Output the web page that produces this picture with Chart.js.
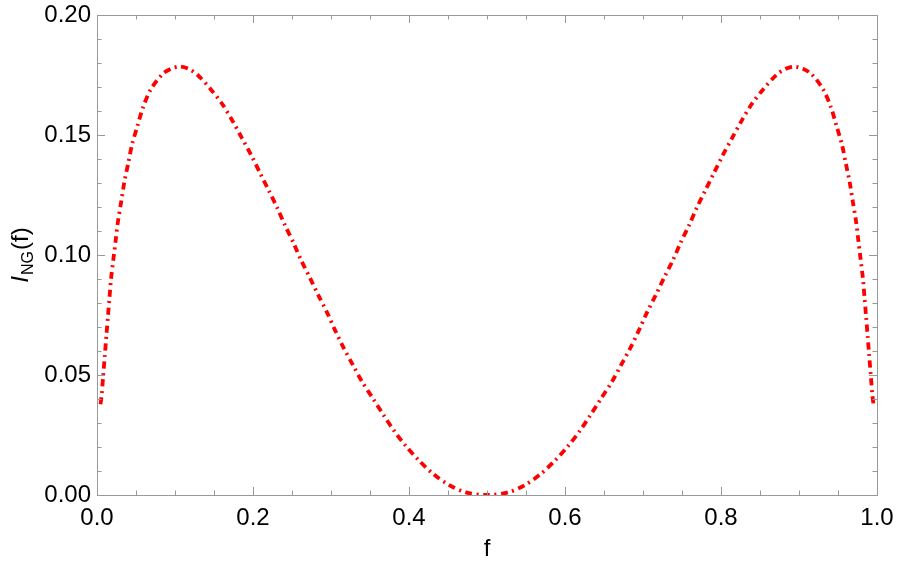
<!DOCTYPE html>
<html>
<head>
<meta charset="utf-8">
<script src="https://cdn.jsdelivr.net/npm/chart.js@4.4.1/dist/chart.umd.min.js"></script>
<style>
  html, body { margin: 0; padding: 0; background: #fff; }
  #wrap { width: 897px; height: 575px; }
</style>
</head>
<body>
<div id="wrap"><canvas id="ngChart"></canvas></div>
<script>
// Valeurs
const fValues = [
    0.0045, 0.006, 0.008, 0.010, 0.012, 0.014, 0.016, 0.018, 0.021, 0.024,
    0.027, 0.031, 0.035, 0.040, 0.045, 0.052, 0.059, 0.069, 0.084, 0.095,
    0.106, 0.117, 0.129, 0.146, 0.161, 0.174, 0.186, 0.198, 0.209, 0.220,
    0.231, 0.241, 0.252, 0.262, 0.273, 0.284, 0.295, 0.305, 0.316, 0.328,
    0.340, 0.354, 0.367, 0.381, 0.396, 0.413, 0.431, 0.451, 0.473, 0.500,
    0.527, 0.549, 0.569, 0.587, 0.604, 0.619, 0.633, 0.646, 0.660, 0.672,
    0.684, 0.695, 0.705, 0.716, 0.727, 0.738, 0.748, 0.759, 0.769, 0.780,
    0.791, 0.802, 0.814, 0.826, 0.839, 0.854, 0.871, 0.883, 0.894, 0.905,
    0.916, 0.931, 0.941, 0.948, 0.955, 0.960, 0.965, 0.969, 0.973, 0.976,
    0.979, 0.982, 0.984, 0.986, 0.988, 0.990, 0.992, 0.994, 0.9955
];
const iValues = [
    0.0378, 0.0418, 0.050, 0.058, 0.0663, 0.0743, 0.0822, 0.0901, 0.0982, 0.1063,
    0.1143, 0.1222, 0.1303, 0.1382, 0.1461, 0.1539, 0.1615, 0.169, 0.1754, 0.1776,
    0.1785, 0.1776, 0.175, 0.169, 0.1627, 0.1557, 0.1486, 0.1414, 0.1342, 0.127,
    0.1197, 0.1124, 0.105, 0.0976, 0.0905, 0.0831, 0.076, 0.0688, 0.0614, 0.0542,
    0.0471, 0.0401, 0.0335, 0.0267, 0.0204, 0.0143, 0.0088, 0.0042, 0.0011, 0.0,
    0.0011, 0.0042, 0.0088, 0.0143, 0.0204, 0.0267, 0.0335, 0.0401, 0.0471, 0.0542,
    0.0614, 0.0688, 0.076, 0.0831, 0.0905, 0.0976, 0.105, 0.1124, 0.1197, 0.127,
    0.1342, 0.1414, 0.1486, 0.1557, 0.1627, 0.169, 0.175, 0.1776, 0.1785, 0.1776,
    0.1754, 0.169, 0.1615, 0.1539, 0.1461, 0.1382, 0.1303, 0.1222, 0.1143, 0.1063,
    0.0982, 0.0901, 0.0822, 0.0743, 0.0663, 0.058, 0.050, 0.0418, 0.0378
];

// Graduations
const xTickLabels = ['0.0', '0.2', '0.4', '0.6', '0.8', '1.0'];
const yTickLabels = ['0.00', '0.05', '0.10', '0.15', '0.20'];

const fontFamily = "'Liberation Sans', Arial, sans-serif";
const frameColor = '#999999';

// Cadre et graduations vers l'intérieur (style Mathematica) + titres des axes
const framePlugin = {
    id: 'frame',
    afterDatasetsDraw(chart) {
        const { ctx, chartArea: a, scales: { x, y } } = chart;
        ctx.save();
        ctx.strokeStyle = frameColor;
        ctx.lineWidth = 1;
        ctx.strokeRect(Math.round(a.left) + 0.5, Math.round(a.top) + 0.5,
            Math.round(a.right - a.left), Math.round(a.bottom - a.top));

        ctx.beginPath();
        for (let i = 0; i <= 20; i++) {
            const px = Math.round(x.getPixelForValue(i * 0.05)) + 0.5;
            const len = i % 4 === 0 ? 8 : 4.5;
            ctx.moveTo(px, a.bottom); ctx.lineTo(px, a.bottom - len);
            ctx.moveTo(px, a.top); ctx.lineTo(px, a.top + len);
        }
        for (let i = 0; i <= 20; i++) {
            const py = Math.round(y.getPixelForValue(i * 0.01)) + 0.5;
            const len = i % 5 === 0 ? 8 : 4.5;
            ctx.moveTo(a.left, py); ctx.lineTo(a.left + len, py);
            ctx.moveTo(a.right, py); ctx.lineTo(a.right - len, py);
        }
        ctx.stroke();

        // titre de l'axe x
        ctx.fillStyle = '#000';
        ctx.font = '24px ' + fontFamily;
        ctx.textAlign = 'center';
        ctx.textBaseline = 'middle';
        ctx.fillText('f', (a.left + a.right) / 2, 549);

        // titre de l'axe y : I_NG(f)
        ctx.translate(20, (a.top + a.bottom) / 2);
        ctx.rotate(-Math.PI / 2);
        const fontI = 'italic 24px ' + fontFamily;
        const fontSub = '16px ' + fontFamily;
        const fontMain = '24px ' + fontFamily;
        ctx.font = fontI; const wI = ctx.measureText('I').width;
        ctx.font = fontSub; const wS = ctx.measureText('NG').width;
        ctx.font = fontMain; const wP = ctx.measureText('(f)').width;
        let cx = -(wI + wS + wP + 2) / 2;
        ctx.textAlign = 'left';
        ctx.textBaseline = 'alphabetic';
        ctx.font = fontI; ctx.fillText('I', cx, 8); cx += wI + 1;
        ctx.font = fontSub; ctx.fillText('NG', cx, 13); cx += wS + 1;
        ctx.font = fontMain; ctx.fillText('(f)', cx, 8);
        ctx.restore();
    }
};

const points = fValues.map((f, i) => ({ x: f, y: iValues[i] }));

new Chart(document.getElementById('ngChart'), {
    type: 'line',
    data: {
        datasets: [{
            data: points,
            borderColor: '#ff0000',
            borderWidth: 3.8,
            borderDash: [7, 4.5, 2, 4.5],
            borderCapStyle: 'butt',
            pointRadius: 0,
            tension: 0.3,
            fill: false
        }]
    },
    options: {
        responsive: true,
        maintainAspectRatio: false,
        animation: false,
        layout: { padding: { top: 15, right: 20, bottom: 0, left: 0 } },
        plugins: {
            legend: { display: false },
            tooltip: { enabled: false }
        },
        scales: {
            x: {
                type: 'linear',
                min: 0,
                max: 1,
                afterFit(scale) {
                    scale.height = 80;
                    scale.paddingLeft = 0;
                    scale.paddingRight = 0;
                },
                grid: { display: false, drawTicks: false },
                border: { display: false },
                ticks: {
                    stepSize: 0.2,
                    padding: 9,
                    color: '#000',
                    maxRotation: 0,
                    font: { family: fontFamily, size: 24 },
                    callback: (v, i) => xTickLabels[i]
                }
            },
            y: {
                type: 'linear',
                min: 0,
                max: 0.2,
                afterFit(scale) {
                    scale.width = 97;
                    scale.paddingTop = 0;
                    scale.paddingBottom = 0;
                },
                grid: { display: false, drawTicks: false },
                border: { display: false },
                ticks: {
                    stepSize: 0.05,
                    padding: 6,
                    color: '#000',
                    font: { family: fontFamily, size: 24 },
                    callback: (v, i) => yTickLabels[i]
                }
            }
        }
    },
    plugins: [framePlugin]
});
</script>
</body>
</html>
